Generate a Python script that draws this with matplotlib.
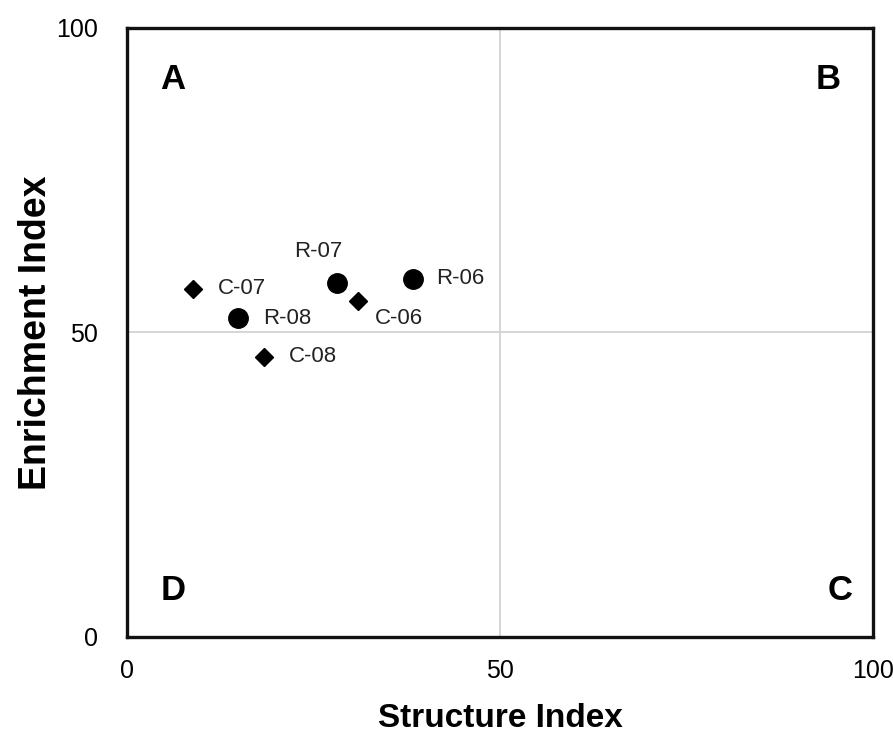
import matplotlib
matplotlib.use("Agg")
import matplotlib.pyplot as plt

plt.rcParams['font.family'] = ['Liberation Sans Narrow', 'Liberation Sans', 'DejaVu Sans']

# sample points
labels = ['C-07', 'R-08', 'C-08', 'R-07', 'C-06', 'R-06']
structure = [8.9, 14.9, 18.4, 28.1, 31.0, 38.3]
enrichment = [57.2, 52.3, 46.0, 58.1, 55.2, 58.8]
kinds = ['C', 'R', 'C', 'R', 'C', 'R']

# label offsets in points (x, y) and alignment
offsets = {
    'C-07': (18, 0, 'left', 'center'),
    'R-08': (18, 0, 'left', 'center'),
    'C-08': (18, 0, 'left', 'center'),
    'R-07': (-13, 23, 'center', 'center'),
    'C-06': (12, -13, 'left', 'center'),
    'R-06': (17, 0, 'left', 'center'),
}

quadrants = ['A', 'B', 'C', 'D']

fig = plt.figure(figsize=(8.93, 7.33), dpi=100)
ax = fig.add_axes([0.142, 0.131, 0.836, 0.831])

ax.axvline(50, color='#d0d0d0', lw=1.2, zorder=0)
ax.axhline(50, color='#d0d0d0', lw=1.2, zorder=0)

for lab, x, y, k in zip(labels, structure, enrichment, kinds):
    if k == 'R':
        ax.plot(x, y, 'o', color='black', markersize=14, zorder=3)
    else:
        ax.plot(x, y, 'D', color='black', markersize=9.5, zorder=3)
    dx, dy, ha, va = offsets[lab]
    ax.annotate(lab, (x, y), xytext=(dx, dy), textcoords='offset points',
                ha=ha, va=va, fontsize=16, color='#222222')

qpos = {'A': (0.062, 0.916), 'B': (0.94, 0.916),
        'C': (0.956, 0.076), 'D': (0.062, 0.076)}
for q in quadrants:
    ax.text(qpos[q][0], qpos[q][1], q, transform=ax.transAxes,
            ha='center', va='center', fontsize=25, fontweight='bold')

ax.set_xlim(0, 100)
ax.set_ylim(0, 100)
ax.set_xticks([0, 50, 100])
ax.set_yticks([0, 50, 100])
ax.tick_params(length=0, labelsize=18, pad=0)
ax.tick_params(axis='x', pad=16)
ax.tick_params(axis='y', pad=21)
for s in ax.spines.values():
    s.set_linewidth(2.4)
    s.set_color('#111111')

ax.set_xlabel('Structure Index', fontsize=24, fontweight='bold', labelpad=14)
ax.set_ylabel('Enrichment Index', fontsize=27, fontweight='bold', labelpad=1)

fig.savefig('out.png', dpi=100)
